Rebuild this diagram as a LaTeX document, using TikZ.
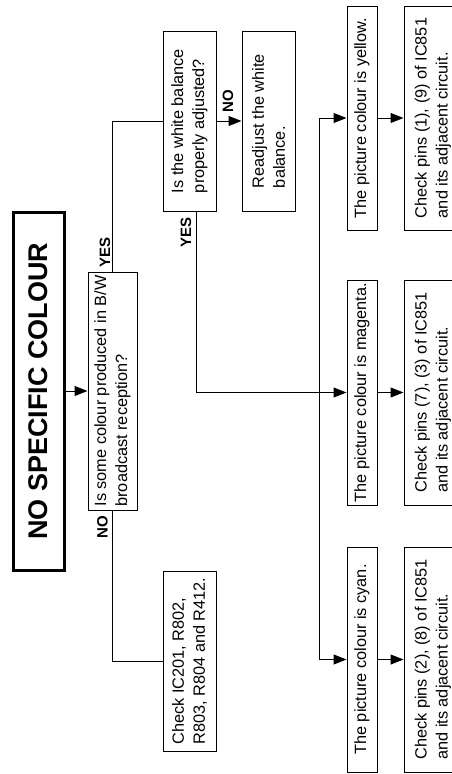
\documentclass[tikz,border=0pt]{standalone}
\usepackage{fontspec}
\setmainfont{Liberation Sans}
\usetikzlibrary{arrows.meta,calc}
\begin{document}
\begin{tikzpicture}[x=1pt,y=-1pt,
  box/.style={draw,line width=1pt,rotate=90,inner sep=0pt,align=left,
    font=\fontsize{16.3}{21}\selectfont},
  lbl/.style={rotate=90,inner sep=0pt,font=\fontsize{15}{15}\bfseries\selectfont},
  conn/.style={line width=1pt},
  arr/.style={line width=1pt,-{Triangle[length=13pt,width=10pt]}}]
\useasboundingbox (0,0) rectangle (452,774);
\clip (0,0) rectangle (452,774);

\node[box,line width=3pt,minimum width=358pt,minimum height=51pt,
  font=\fontsize{27}{27}\bfseries\selectfont] (title) at (38.5,391) {NO SPECIFIC COLOUR};
\node[box,minimum width=238pt,minimum height=49pt] (q1) at (112.5,391)
  {Is some colour produced in B/W\\broadcast reception?};
\node[box,minimum width=180pt,minimum height=53pt] (q2) at (189.5,121)
  {Is the white balance\\properly adjusted?};
\node[box,minimum width=180pt,minimum height=53pt] (readj) at (268.5,121)
  {Readjust the white\\balance.};
\node[box,minimum width=180pt,minimum height=53pt] (chk0) at (189.5,661)
  {Check IC201, R802,\\R803, R804 and R412.};

\node[box,minimum width=224pt,minimum height=30pt] (yel) at (362,118)
  {The picture colour is yellow.};
\node[box,minimum width=225pt,minimum height=30pt] (mag) at (362,392.5)
  {The picture colour is magenta.};
\node[box,minimum width=225pt,minimum height=30pt] (cyan) at (362,659.5)
  {The picture colour is cyan.};

\node[box,minimum width=224pt,minimum height=58pt] (chky) at (433,118)
  {Check pins (1), (9) of IC851\\and its adjacent circuit.};
\node[box,minimum width=225pt,minimum height=58pt] (chkm) at (433,392.5)
  {Check pins (7), (3) of IC851\\and its adjacent circuit.};
\node[box,minimum width=225pt,minimum height=58pt] (chkc) at (433,659.5)
  {Check pins (2), (8) of IC851\\and its adjacent circuit.};

% labels
\node[lbl] (yes1) at (105,252.5) {YES};
\node[lbl] (no1) at (102.5,527.5) {NO};
\node[lbl] (no2) at (228,101) {NO};
\node[lbl] (yes2) at (186,232) {YES};

% connectors
\draw[arr] (title.south) -- (q1.north);
\draw[conn] (q1.east) |- (q2.north);
\draw[conn] (q1.west) |- (chk0.north);
\draw[arr] (q2.south) -- (readj.north);
\coordinate (q2y) at ($(q2.west)!0.25!(q2.south west)$);
\draw[arr] (q2y) |- (mag.north);
\path (mag.north) ++(-27,0) coordinate (br);
\draw[arr] (br) |- (yel.north);
\draw[arr] (br) |- (cyan.north);
\draw[arr] (yel.south) -- (chky.north);
\draw[arr] (mag.south) -- (chkm.north);
\draw[arr] (cyan.south) -- (chkc.north);
\end{tikzpicture}
\end{document}
